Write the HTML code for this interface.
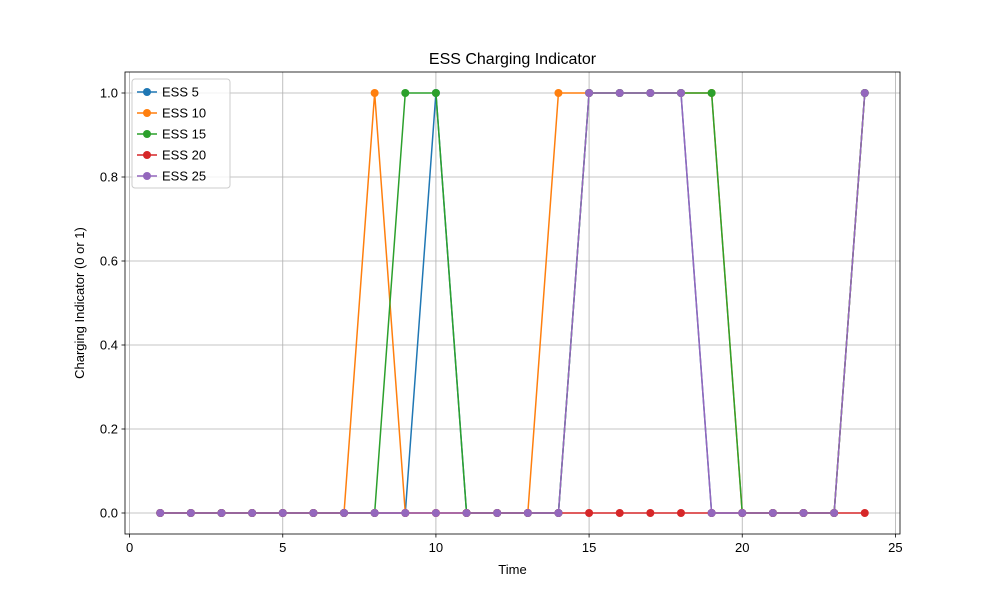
<!DOCTYPE html>
<html><head><meta charset="utf-8"><style>body{margin:0;background:#fff}svg{font-family:"Liberation Sans","DejaVu Sans",sans-serif}</style></head>
<body>
<svg id="chart" width="1000" height="600" viewBox="0 0 1000 600" xmlns="http://www.w3.org/2000/svg"></svg>
<script>
const hours = [1,2,3,4,5,6,7,8,9,10,11,12,13,14,15,16,17,18,19,20,21,22,23,24];
const seriesNames = ["ESS 5","ESS 10","ESS 15","ESS 20","ESS 25"];
const seriesColors = ["#1f77b4","#ff7f0e","#2ca02c","#d62728","#9467bd"];
const ess5  = [0,0,0,0,0,0,0,0,0,1,0,0,0,0,1,1,1,1,0,0,0,0,0,1];
const ess10 = [0,0,0,0,0,0,0,1,0,0,0,0,0,1,1,1,1,1,1,0,0,0,0,1];
const ess15 = [0,0,0,0,0,0,0,0,1,1,0,0,0,0,1,1,1,1,1,0,0,0,0,1];
const ess20 = [0,0,0,0,0,0,0,0,0,0,0,0,0,0,0,0,0,0,0,0,0,0,0,0];
const ess25 = [0,0,0,0,0,0,0,0,0,0,0,0,0,0,1,1,1,1,0,0,0,0,0,1];
const seriesValues = [ess5,ess10,ess15,ess20,ess25];
const xTicks = [0,5,10,15,20,25];
const yTicks = [0,0.2,0.4,0.6,0.8,1.0];

const svg = document.getElementById('chart');
const NS = 'http://www.w3.org/2000/svg';
const L=125,R=900,T=72,B=534;
const xmin=-0.15,xmax=25.15,ymin=-0.05,ymax=1.05;
const X=v=>L+(v-xmin)/(xmax-xmin)*(R-L);
const Y=v=>B-(v-ymin)/(ymax-ymin)*(B-T);
function mk(tag,attrs,parent){const e=document.createElementNS(NS,tag);for(const k in attrs)e.setAttribute(k,attrs[k]);(parent||svg).appendChild(e);return e;}

const grid=mk('g',{});


xTicks.forEach(t=>{
  mk('line',{x1:X(t),x2:X(t),y1:T,y2:B,stroke:'#b0b0b0','stroke-width':0.8},grid);
  mk('line',{x1:X(t),x2:X(t),y1:B,y2:B+3.5,stroke:'#000','stroke-width':0.8},grid);
  const tx=mk('text',{x:X(t),y:B+18,'text-anchor':'middle','font-size':13},grid);
  
  
  tx.textContent=t;
});
yTicks.forEach(t=>{
  mk('line',{x1:L,x2:R,y1:Y(t),y2:Y(t),stroke:'#b0b0b0','stroke-width':0.8},grid);
  mk('line',{x1:L-3.5,x2:L,y1:Y(t),y2:Y(t),stroke:'#000','stroke-width':0.8},grid);
  const tx=mk('text',{x:L-7,y:Y(t)+4.5,'text-anchor':'end','font-size':13},grid);
  
  
  tx.textContent=t.toFixed(1);
});

seriesValues.forEach((vals,i)=>{
  const g=mk('g',{});
  
  
  mk('polyline',{points:hours.map((h,j)=>X(h)+','+Y(vals[j])).join(' '),fill:'none',stroke:seriesColors[i],'stroke-width':1.5},g);
  hours.forEach((h,j)=>{
    const c=mk('circle',{cx:X(h),cy:Y(vals[j]),r:4,fill:seriesColors[i]},g);
    
    
  });
});

const frame=mk('rect',{x:L,y:T,width:R-L,height:B-T,fill:'none',stroke:'#000','stroke-width':0.8});



const title=mk('text',{x:(L+R)/2,y:64,'text-anchor':'middle','font-size':16});


title.textContent='ESS Charging Indicator';
const xl=mk('text',{x:(L+R)/2,y:574,'text-anchor':'middle','font-size':13});


xl.textContent='Time';
const yl=mk('text',{x:0,y:0,'text-anchor':'middle','font-size':13,transform:'translate(84,303) rotate(-90)'});


yl.textContent='Charging Indicator (0 or 1)';

const leg=mk('g',{});


mk('rect',{x:132,y:79,width:98,height:109,rx:3,fill:'#fff','fill-opacity':0.8,stroke:'#ccc','stroke-width':1},leg);
seriesNames.forEach((n,i)=>{
  const y=92+i*21;
  const e=mk('g',{},leg);
  
  
  mk('line',{x1:137,x2:157,y1:y,y2:y,stroke:seriesColors[i],'stroke-width':1.5},e);
  mk('circle',{cx:147,cy:y,r:4,fill:seriesColors[i]},e);
  const t=mk('text',{x:162,y:y+4.5,'font-size':13},e);
  t.textContent=n;
});
</script>
</body></html>
